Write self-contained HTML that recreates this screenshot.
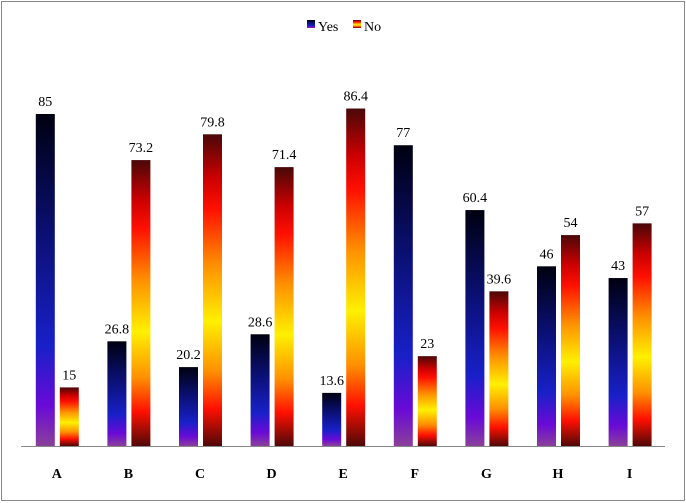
<!DOCTYPE html>
<html><head><meta charset="utf-8"><style>
html,body{margin:0;padding:0;background:#fff}
svg{display:block;font-family:"Liberation Serif",serif}
</style></head><body>
<svg id="chart" width="686" height="503">
<defs>
<linearGradient id="gYes" x1="0" y1="0" x2="0" y2="1">
<stop offset="0" stop-color="#000010"/><stop offset="0.35" stop-color="#0a0f70"/>
<stop offset="0.7" stop-color="#1820c8"/><stop offset="0.88" stop-color="#6a0ad6"/>
<stop offset="1" stop-color="#8a409a"/></linearGradient>
<linearGradient id="gNo" x1="0" y1="0" x2="0" y2="1">
<stop offset="0" stop-color="#4a0808"/><stop offset="0.14" stop-color="#cc0000"/>
<stop offset="0.24" stop-color="#ff1000"/><stop offset="0.42" stop-color="#ff9000"/>
<stop offset="0.6" stop-color="#fff000"/><stop offset="0.76" stop-color="#ff9000"/>
<stop offset="0.88" stop-color="#ff1000"/><stop offset="1" stop-color="#500808"/></linearGradient>
</defs>
<rect x="1.5" y="1.5" width="683" height="499" fill="#fff" stroke="#888"/>
<g>
<rect x="307" y="20" width="8" height="8" fill="url(#gYes)"/>
<text x="318" y="31" font-size="14">Yes</text>
<rect x="353" y="20" width="8" height="8" fill="url(#gNo)"/>
<text x="364" y="31" font-size="14">No</text>
</g>
<g id="bars"></g>
<line x1="21" y1="446.5" x2="665" y2="446.5" stroke="#888"/>
</svg>
<script>
const categories = ["A","B","C","D","E","F","G","H","I"];
const yesValues = [85,26.8,20.2,28.6,13.6,77,60.4,46,43];
const noValues = [15,73.2,79.8,71.4,86.4,23,39.6,54,57];
const NS="http://www.w3.org/2000/svg";
const g=document.getElementById("bars");
const left=21, step=71.6, base=446, pxPerUnit=3.906, bw=19;
function yScale(v){return base - v*pxPerUnit;}
function xCenter(i){return left + step*i + step/2;}
function mk(tag,attrs){const e=document.createElementNS(NS,tag);for(const k in attrs)e.setAttribute(k,attrs[k]);g.appendChild(e);return e;}
function fmt(v){return String(v);}
categories.forEach((c,i)=>{
  const cx=xCenter(i);
  [[yesValues[i],cx-21,"url(#gYes)","yes"],[noValues[i],cx+3,"url(#gNo)","no"]].forEach(([v,x,f,s])=>{
    const y=yScale(v);
    const r=mk("rect",{x:x,y:y,width:bw,height:base-y,fill:f});
    
    
    const t=mk("text",{x:x+bw/2,y:y-8,"font-size":14,"text-anchor":"middle"});
    t.textContent=fmt(v);
    
    
  });
  const l=mk("text",{x:cx,y:478,"font-size":14,"font-weight":"bold","text-anchor":"middle"});
  l.textContent=c;
  
  
});
</script>
</body></html>
